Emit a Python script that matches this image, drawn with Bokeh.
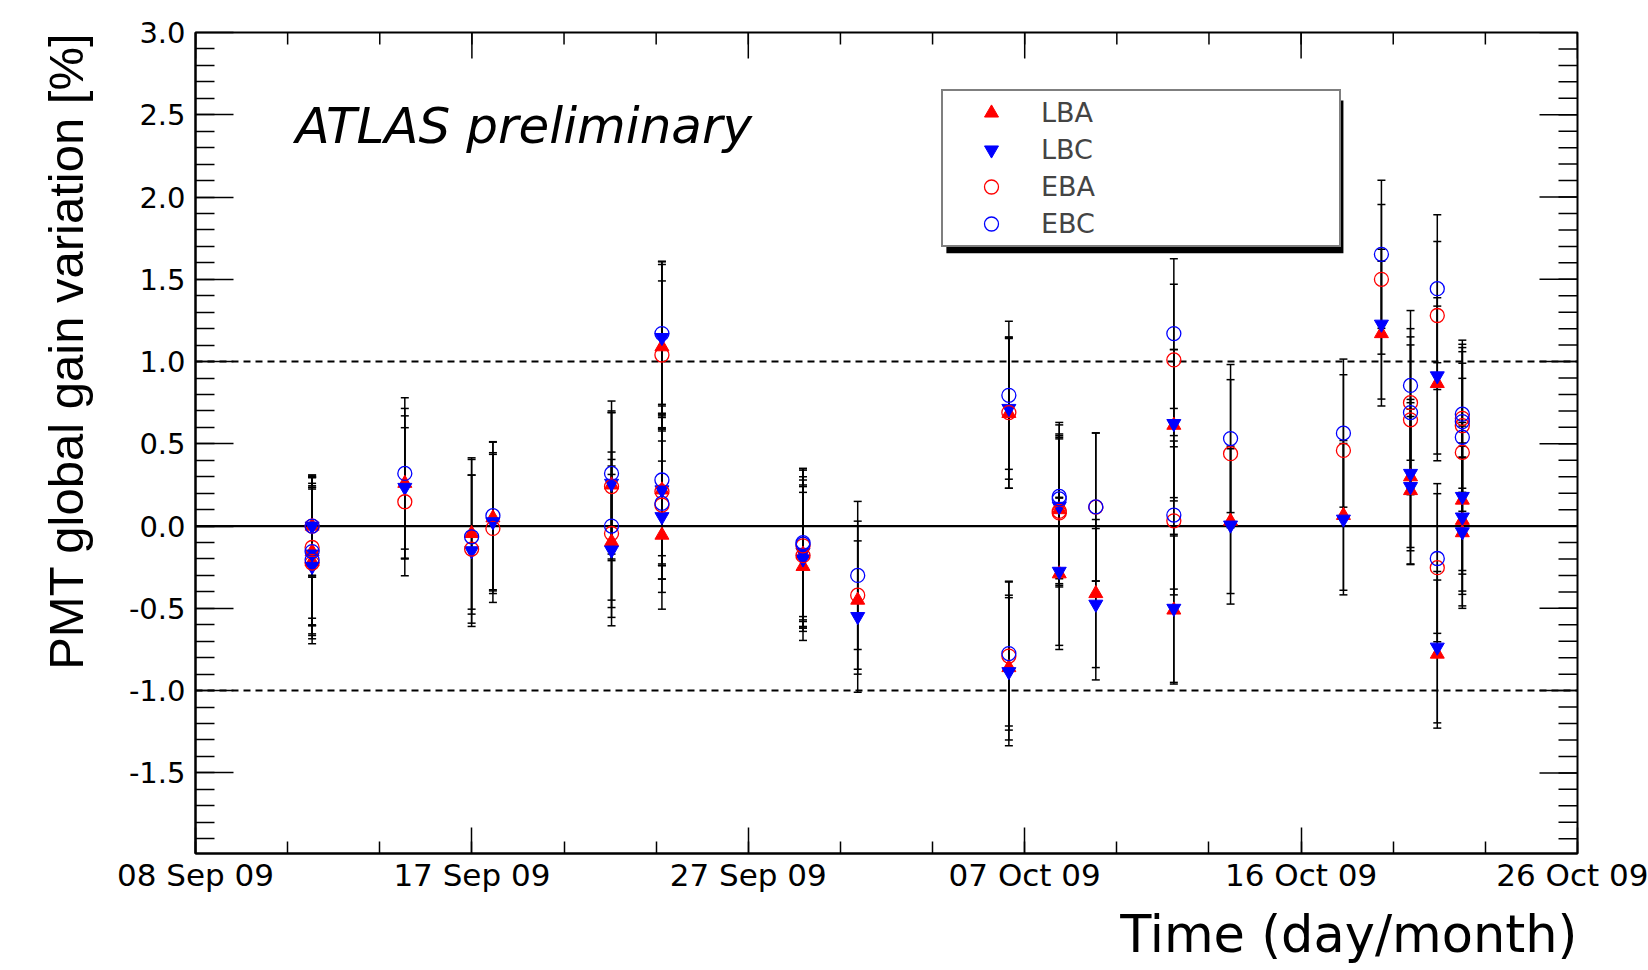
import numpy as np
import pandas as pd
from bokeh.plotting import figure
from bokeh.models import (ColumnDataSource, Range1d, FixedTicker, Span, Title,
                          Whisker, TeeHead, Label, Legend, LegendItem, BoxAnnotation)
from bokeh.embed import file_html
from bokeh.resources import INLINE

# time of each calibration run, in days since 08 Sep 09 (start of the time axis)
run_day = [4.05, 4.05, 4.05, 7.27, 9.59, 10.33, 14.45, 14.45, 16.2, 16.2, 16.2,
           21.1, 21.1, 23.0, 28.25, 28.25, 30.0, 30.0, 31.27, 33.98, 33.98, 35.95,
           39.87, 41.19, 42.2, 42.2, 43.13, 43.13, 44.0, 44.0, 44.0]

# PMT global gain variation [%] per partition
lba = [0.0, -0.155, -0.215, 0.26, -0.045, 0.05, 0.25, -0.095, 1.09, 0.22, -0.055,
       -0.17, -0.245, -0.45, 0.685, -0.86, 0.10, -0.29, -0.41, 0.613, -0.51, 0.03,
       0.065, 1.17, 0.30, 0.216, 0.867, -0.778, 0.158, 0.035, -0.04]
lbc = [0.0, -0.17, -0.245, 0.235, -0.15, 0.026, 0.26, -0.146, 1.146, 0.22, 0.057,
       -0.16, -0.20, -0.55, 0.715, -0.885, 0.12, -0.275, -0.475, 0.623, -0.50, 0.006,
       0.042, 1.227, 0.32, 0.24, 0.913, -0.736, 0.18, 0.055, -0.035]
eba = [0.0, -0.13, -0.225, 0.148, -0.14, -0.014, 0.24, -0.045, 1.04, 0.21, 0.128,
       -0.12, -0.18, -0.42, 0.69, -0.79, 0.09, 0.08, 0.115, 1.01, 0.032, 0.44,
       0.46, 1.50, 0.75, 0.646, 1.28, -0.253, 0.655, 0.61, 0.448]
ebc = [0.0, -0.155, -0.205, 0.32, -0.065, 0.063, 0.32, 0.0, 1.17, 0.28, 0.138,
       -0.10, -0.11, -0.30, 0.795, -0.775, 0.18, 0.165, 0.117, 1.17, 0.067, 0.532,
       0.565, 1.652, 0.855, 0.69, 1.443, -0.197, 0.68, 0.635, 0.54]

# uncertainties
lba_err = [0.31, 0.45, 0.45, 0.455, 0.46, 0.46, 0.45, 0.46, 0.50, 0.45, 0.45,
           0.45, 0.45, 0.45, 0.455, 0.44, 0.45, 0.46, 0.45, 0.46, 0.45, 0.44,
           0.455, 0.44, 0.45, 0.45, 0.47, 0.45, 0.45, 0.45, 0.46]
lbc_err = [0.30, 0.43, 0.47, 0.435, 0.46, 0.42, 0.43, 0.46, 0.46, 0.46, 0.46,
           0.46, 0.44, 0.46, 0.43, 0.45, 0.44, 0.45, 0.46, 0.45, 0.45, 0.48,
           0.46, 0.455, 0.45, 0.47, 0.475, 0.46, 0.45, 0.45, 0.45]
eba_err = [0.30, 0.43, 0.46, 0.45, 0.45, 0.45, 0.45, 0.45, 0.45, 0.45, 0.45,
           0.46, 0.43, 0.45, 0.46, 0.45, 0.45, 0.45, 0.45, 0.46, 0.45, 0.45,
           0.46, 0.455, 0.45, 0.455, 0.45, 0.45, 0.45, 0.45, 0.45]
ebc_err = [0.31, 0.45, 0.45, 0.46, 0.47, 0.45, 0.44, 0.45, 0.44, 0.46, 0.46,
           0.45, 0.46, 0.45, 0.45, 0.44, 0.45, 0.45, 0.45, 0.455, 0.45, 0.45,
           0.45, 0.45, 0.455, 0.46, 0.45, 0.455, 0.45, 0.45, 0.45]

# axis ticks
x_major = [0.0, 9.6, 19.2, 28.8, 38.4, 48.0]
x_labels = ["08 Sep 09", "17 Sep 09", "27 Sep 09", "07 Oct 09", "16 Oct 09", "26 Oct 09"]
x_minor = [0.0, 3.2, 6.4, 9.6, 12.8, 16.0, 19.2, 22.4, 25.6, 28.8, 32.0, 35.2, 38.4,
           41.6, 44.8, 48.0]
y_major = [-1.5, -1.0, -0.5, 0.0, 0.5, 1.0, 1.5, 2.0, 2.5, 3.0]
y_labels = ["-1.5", "-1.0", "-0.5", "0.0", "0.5", "1.0", "1.5", "2.0", "2.5", "3.0"]
y_minor = [round(-1.9 + 0.1 * k, 1) for k in range(49)]

X_MIN, X_MAX = 0.0, 48.0
Y_MIN, Y_MAX = -1.99, 3.0

series = [("LBA", lba, lba_err, "triangle", "red", True),
          ("LBC", lbc, lbc_err, "inverted_triangle", "blue", True),
          ("EBA", eba, eba_err, "circle", "red", False),
          ("EBC", ebc, ebc_err, "circle", "blue", False)]

p = figure(width=1648, height=970, output_backend="svg", toolbar_location=None,
           x_range=Range1d(X_MIN, X_MAX), y_range=Range1d(Y_MIN, Y_MAX),
           min_border_left=195, min_border_right=71, min_border_top=32,
           min_border_bottom=116)
p.background_fill_color = "white"
p.border_fill_color = "white"
p.xgrid.visible = False
p.ygrid.visible = False
p.outline_line_color = "black"
p.outline_line_width = 2

# reference lines
p.add_layout(Span(location=0.0, dimension="width", line_color="black", line_width=2.2,
                  level="underlay"))
for lv in (1.0, -1.0):
    p.add_layout(Span(location=lv, dimension="width", line_color="black", line_width=2,
                      line_dash="7 5", level="underlay"))

# ticks on the top and right edges of the frame (ROOT style)
p.ray(x=x_minor, y=[Y_MAX] * len(x_minor), length=12, angle=-np.pi / 2,
      length_units="screen", line_color="black", line_width=1.5)
p.ray(x=x_major, y=[Y_MAX] * len(x_major), length=26, angle=-np.pi / 2,
      length_units="screen", line_color="black", line_width=1.5)
p.ray(x=[X_MAX] * len(y_minor), y=y_minor, length=19, angle=np.pi,
      length_units="screen", line_color="black", line_width=1.5)
p.ray(x=[X_MAX] * len(y_major), y=y_major, length=38, angle=np.pi,
      length_units="screen", line_color="black", line_width=1.5)

for name, vals, errs, marker, color, filled in series:
    df = pd.DataFrame({"x": run_day, "y": vals, "e": errs})
    df["upper"] = df["y"] + df["e"]
    df["lower"] = df["y"] - df["e"]
    src = ColumnDataSource(df)
    w = Whisker(source=src, base="x", upper="upper", lower="lower", dimension="height",
                line_color="black", line_width=1.5,
                upper_head=TeeHead(size=8, line_color="black", line_width=1.5),
                lower_head=TeeHead(size=8, line_color="black", line_width=1.5))
    p.add_layout(w)

renderers = {}
for name, vals, errs, marker, color, filled in series:
    src = ColumnDataSource(dict(x=run_day, y=vals))
    if filled:
        r = p.scatter("x", "y", source=src, marker=marker, size=14,
                      fill_color=color, line_color=color, line_width=1)
    else:
        r = p.scatter("x", "y", source=src, marker=marker, size=14,
                      fill_color=None, line_color=color, line_width=1.3)
    renderers[name] = r

# axes styling
def style_axis(ax, major, minor, tin, mtin, labels, font_size):
    ax.ticker = FixedTicker(ticks=major, minor_ticks=minor)
    ax.major_tick_in = tin
    ax.major_tick_out = 0
    ax.minor_tick_in = mtin
    ax.minor_tick_out = 0
    ax.axis_line_color = "black"
    ax.axis_line_width = 2
    ax.major_tick_line_width = 1.5
    ax.minor_tick_line_width = 1.5
    ax.major_tick_line_color = "black"
    ax.minor_tick_line_color = "black"
    ax.major_label_overrides = {t: l for t, l in zip(major, labels)}
    ax.major_label_text_font = "DejaVu Sans"
    ax.major_label_text_font_size = font_size
    ax.major_label_text_color = "black"

xa = p.xaxis[0]
style_axis(xa, x_major, x_minor, 26, 12, x_labels, "31px")
xa.major_label_standoff = 3
ya = p.yaxis[0]
style_axis(ya, y_major, y_minor, 38, 19, y_labels, "29px")
ya.major_label_standoff = 10

# axis titles (right-aligned, ROOT style)
p.add_layout(Title(text="PMT global gain variation [%]", align="right",
                   text_font="Liberation Sans", text_font_size="49px",
                   text_font_style="normal", text_color="black", standoff=66), "left")
p.add_layout(Title(text="Time (day/month)", align="right",
                   text_font="DejaVu Sans", text_font_size="51px",
                   text_font_style="normal", text_color="black", standoff=14), "below")

p.add_layout(Label(x=3.47, y=2.43, text="ATLAS preliminary",
                   text_align="left", text_baseline="alphabetic",
                   text_font="DejaVu Sans", text_font_style="italic",
                   text_font_size="50px", text_color="black"))

# legend with shadow
p.add_layout(BoxAnnotation(left=26.08, right=39.87, top=2.587, bottom=1.659,
                           fill_color="black", fill_alpha=1.0, line_color=None,
                           level="annotation"))
legend = Legend(items=[LegendItem(label=n, renderers=[renderers[n]]) for n in ["LBA", "LBC", "EBA", "EBC"]],
                location=(746, 606), orientation="vertical",
                padding=4, spacing=2, margin=0,
                glyph_width=88, glyph_height=35, label_standoff=6,
                label_width=294, label_height=35,
                label_text_font="DejaVu Sans", label_text_font_size="27px",
                border_line_color="black", border_line_width=2,
                background_fill_color="white", background_fill_alpha=1.0)
p.add_layout(legend)

open("out.html", "w").write(file_html(p, INLINE))
